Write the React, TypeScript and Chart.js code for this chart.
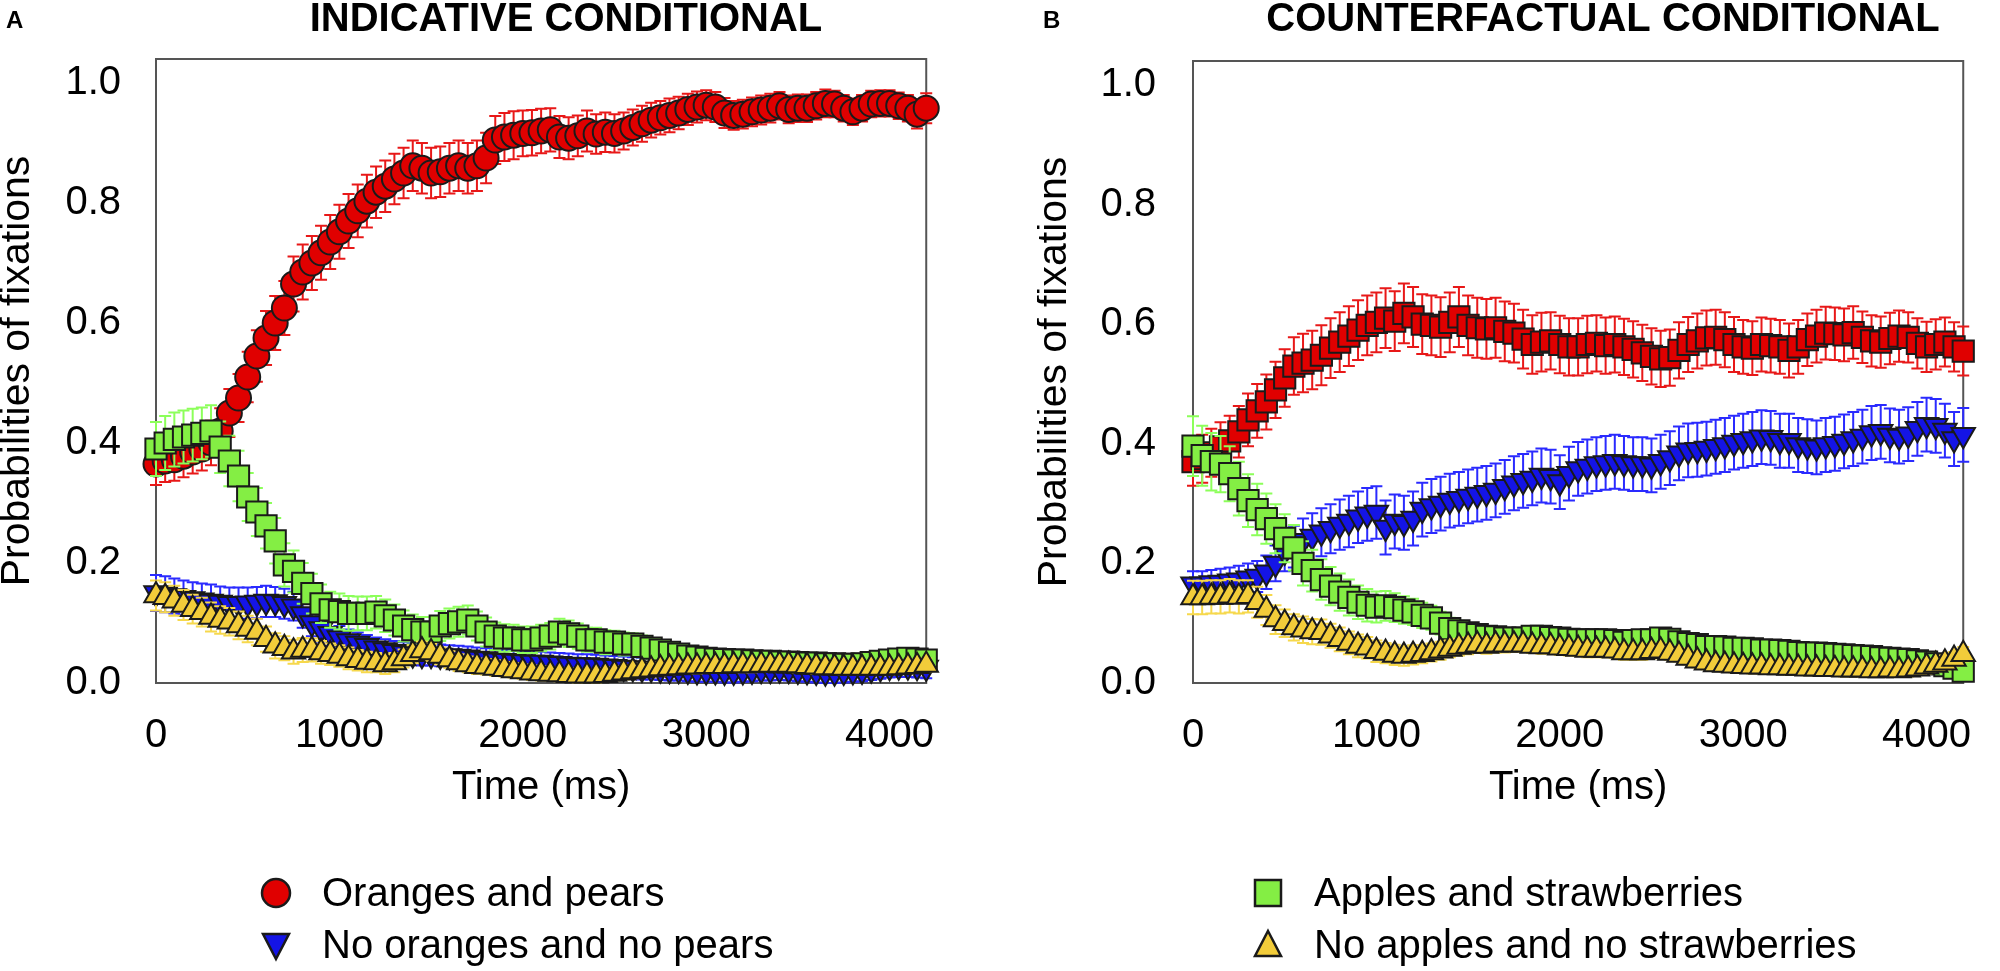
import { useEffect, useRef } from "react";
import { Chart, registerables } from "chart.js";

Chart.register(...registerables);

const FONT = "'Liberation Sans', Arial, Helvetica, sans-serif";
Chart.defaults.font.family = FONT;

// time bins (ms)
const TIME_MS = [
  0, 50, 100, 150, 200, 250, 300, 350, 400, 450,
  500, 550, 600, 650, 700, 750, 800, 850, 900, 950,
  1000, 1050, 1100, 1150, 1200, 1250, 1300, 1350, 1400, 1450,
  1500, 1550, 1600, 1650, 1700, 1750, 1800, 1850, 1900, 1950,
  2000, 2050, 2100, 2150, 2200, 2250, 2300, 2350, 2400, 2450,
  2500, 2550, 2600, 2650, 2700, 2750, 2800, 2850, 2900, 2950,
  3000, 3050, 3100, 3150, 3200, 3250, 3300, 3350, 3400, 3450,
  3500, 3550, 3600, 3650, 3700, 3750, 3800, 3850, 3900, 3950,
  4000, 4050, 4100, 4150, 4200,
];
const X_TICKS = [0, 1000, 2000, 3000, 4000];
const Y_TICKS = [0, 0.2, 0.4, 0.6, 0.8, 1.0];

// A: indicative conditional
const IND_ORANGES = [
  0.365, 0.37, 0.372, 0.378, 0.385, 0.39, 0.4, 0.42, 0.45, 0.475,
  0.51, 0.545, 0.575, 0.6, 0.625, 0.665, 0.685, 0.7, 0.717, 0.735,
  0.752, 0.77, 0.787, 0.803, 0.818, 0.828, 0.84, 0.85, 0.862, 0.858,
  0.85, 0.852, 0.858, 0.862, 0.858, 0.862, 0.875, 0.905, 0.91, 0.913,
  0.916, 0.917, 0.92, 0.922, 0.91, 0.908, 0.912, 0.92, 0.915, 0.918,
  0.916, 0.92, 0.926, 0.932, 0.938, 0.942, 0.946, 0.95, 0.956, 0.96,
  0.963, 0.96, 0.95, 0.946, 0.948, 0.952, 0.955, 0.958, 0.962, 0.956,
  0.958, 0.958, 0.962, 0.966, 0.965, 0.958, 0.952, 0.958, 0.965, 0.966,
  0.966, 0.962, 0.958, 0.948, 0.958,
];
const IND_ORANGES_SE = [
  0.035, 0.035, 0.035, 0.035, 0.036, 0.036, 0.037, 0.038, 0.04, 0.04,
  0.042, 0.043, 0.045, 0.045, 0.045, 0.046, 0.046, 0.045, 0.045, 0.045,
  0.045, 0.045, 0.044, 0.044, 0.043, 0.043, 0.042, 0.042, 0.042, 0.042,
  0.042, 0.042, 0.042, 0.042, 0.042, 0.042, 0.042, 0.04, 0.04, 0.04,
  0.038, 0.038, 0.037, 0.036, 0.035, 0.035, 0.034, 0.034, 0.033, 0.033,
  0.032, 0.031, 0.03, 0.03, 0.029, 0.028, 0.028, 0.027, 0.026, 0.026,
  0.025, 0.025, 0.025, 0.024, 0.024, 0.024, 0.024, 0.024, 0.023, 0.023,
  0.023, 0.023, 0.023, 0.023, 0.022, 0.022, 0.022, 0.022, 0.022, 0.022,
  0.022, 0.022, 0.022, 0.024, 0.025,
];
const IND_NO_ORANGES = [
  0.15, 0.148, 0.145, 0.142, 0.14, 0.138, 0.136, 0.134, 0.132, 0.132,
  0.133, 0.134, 0.136, 0.135, 0.132, 0.128, 0.115, 0.1, 0.09, 0.082,
  0.075, 0.07, 0.066, 0.062, 0.058, 0.055, 0.052, 0.05, 0.048, 0.047,
  0.047, 0.046, 0.045, 0.044, 0.043, 0.041, 0.04, 0.038, 0.037, 0.036,
  0.035, 0.034, 0.034, 0.033, 0.032, 0.031, 0.03, 0.03, 0.029, 0.028,
  0.027, 0.026, 0.025, 0.024, 0.024, 0.023, 0.022, 0.022, 0.021, 0.02,
  0.02, 0.02, 0.019, 0.019, 0.02, 0.021, 0.022, 0.022, 0.023, 0.022,
  0.021, 0.02, 0.019, 0.018, 0.018, 0.019, 0.02, 0.021, 0.023, 0.025,
  0.027, 0.028, 0.028, 0.027, 0.026,
];
const IND_NO_ORANGES_SE = [
  0.03, 0.03, 0.029, 0.029, 0.028, 0.028, 0.028, 0.027, 0.027, 0.027,
  0.026, 0.026, 0.026, 0.025, 0.025, 0.024, 0.023, 0.022, 0.021, 0.02,
  0.02, 0.019, 0.018, 0.018, 0.018, 0.018, 0.018, 0.018, 0.018, 0.018,
  0.018, 0.018, 0.018, 0.018, 0.018, 0.018, 0.018, 0.018, 0.018, 0.018,
  0.018, 0.018, 0.018, 0.018, 0.018, 0.018, 0.018, 0.018, 0.018, 0.018,
  0.018, 0.018, 0.018, 0.018, 0.018, 0.018, 0.018, 0.018, 0.018, 0.018,
  0.018, 0.018, 0.018, 0.018, 0.018, 0.018, 0.018, 0.018, 0.018, 0.018,
  0.018, 0.018, 0.018, 0.018, 0.018, 0.018, 0.018, 0.018, 0.018, 0.018,
  0.018, 0.018, 0.018, 0.018, 0.018,
];
const IND_APPLES = [
  0.39, 0.4, 0.406, 0.41, 0.413, 0.416, 0.42, 0.393, 0.37, 0.345,
  0.31, 0.285, 0.262, 0.237, 0.197, 0.186, 0.166, 0.149, 0.132, 0.122,
  0.119, 0.116, 0.116, 0.116, 0.118, 0.112, 0.105, 0.095, 0.089, 0.085,
  0.085, 0.095, 0.099, 0.102, 0.105, 0.095, 0.085, 0.078, 0.075, 0.075,
  0.072, 0.072, 0.075, 0.078, 0.085, 0.082, 0.078, 0.072, 0.072, 0.068,
  0.068, 0.065, 0.065, 0.061, 0.058, 0.055, 0.051, 0.048, 0.045, 0.043,
  0.041, 0.04, 0.039, 0.038, 0.038, 0.037, 0.036, 0.036, 0.035, 0.035,
  0.034, 0.033, 0.033, 0.032, 0.032, 0.031, 0.031, 0.032, 0.034, 0.036,
  0.038, 0.04, 0.041, 0.04, 0.038,
];
const IND_APPLES_SE = [
  0.045, 0.045, 0.045, 0.044, 0.044, 0.043, 0.043, 0.043, 0.042, 0.042,
  0.04, 0.04, 0.038, 0.038, 0.036, 0.035, 0.034, 0.033, 0.032, 0.03,
  0.03, 0.029, 0.028, 0.028, 0.027, 0.027, 0.026, 0.026, 0.025, 0.025,
  0.025, 0.025, 0.025, 0.025, 0.024, 0.024, 0.024, 0.023, 0.023, 0.022,
  0.022, 0.022, 0.022, 0.022, 0.022, 0.022, 0.021, 0.02, 0.02, 0.02,
  0.019, 0.019, 0.018, 0.018, 0.017, 0.016, 0.016, 0.015, 0.015, 0.014,
  0.014, 0.014, 0.013, 0.013, 0.013, 0.013, 0.013, 0.013, 0.013, 0.013,
  0.013, 0.013, 0.013, 0.013, 0.013, 0.013, 0.013, 0.013, 0.014, 0.014,
  0.015, 0.015, 0.015, 0.015, 0.015,
];
const IND_NO_APPLES = [
  0.146, 0.143, 0.137, 0.13, 0.123, 0.118, 0.11, 0.105, 0.102, 0.096,
  0.09, 0.085, 0.073, 0.062, 0.058, 0.052, 0.055, 0.055, 0.051, 0.048,
  0.045, 0.041, 0.038, 0.035, 0.034, 0.031, 0.034, 0.041, 0.048, 0.054,
  0.051, 0.045, 0.039, 0.034, 0.031, 0.028, 0.027, 0.025, 0.023, 0.021,
  0.019, 0.017, 0.016, 0.015, 0.014, 0.013, 0.012, 0.012, 0.012, 0.013,
  0.015, 0.017, 0.019, 0.021, 0.022, 0.024, 0.025, 0.026, 0.027, 0.027,
  0.028, 0.028, 0.028, 0.029, 0.029, 0.029, 0.03, 0.03, 0.03, 0.03,
  0.029, 0.028, 0.027, 0.026, 0.026, 0.025, 0.025, 0.025, 0.025, 0.025,
  0.025, 0.026, 0.027, 0.028, 0.03,
];
const IND_NO_APPLES_SE = [
  0.025, 0.025, 0.025, 0.025, 0.024, 0.024, 0.024, 0.023, 0.023, 0.023,
  0.022, 0.022, 0.021, 0.021, 0.02, 0.02, 0.02, 0.019, 0.019, 0.018,
  0.018, 0.018, 0.017, 0.017, 0.016, 0.016, 0.016, 0.015, 0.015, 0.015,
  0.014, 0.014, 0.014, 0.014, 0.013, 0.013, 0.013, 0.013, 0.012, 0.012,
  0.012, 0.012, 0.012, 0.011, 0.011, 0.011, 0.011, 0.011, 0.011, 0.011,
  0.011, 0.011, 0.011, 0.011, 0.011, 0.011, 0.011, 0.011, 0.011, 0.011,
  0.011, 0.011, 0.011, 0.011, 0.011, 0.011, 0.011, 0.011, 0.011, 0.011,
  0.011, 0.011, 0.011, 0.011, 0.011, 0.011, 0.011, 0.011, 0.011, 0.011,
  0.011, 0.011, 0.011, 0.011, 0.011,
];

// B: counterfactual conditional
const CF_ORANGES = [
  0.37, 0.375, 0.385, 0.395, 0.405, 0.42, 0.44, 0.455, 0.47, 0.49,
  0.51, 0.53, 0.535, 0.54, 0.548, 0.56, 0.57, 0.58, 0.59, 0.598,
  0.603, 0.61, 0.605, 0.618, 0.612, 0.6, 0.598, 0.595, 0.603, 0.612,
  0.598, 0.594, 0.592, 0.594, 0.588, 0.585, 0.575, 0.566, 0.57, 0.572,
  0.566, 0.562, 0.562, 0.566, 0.568, 0.564, 0.566, 0.562, 0.558, 0.552,
  0.546, 0.542, 0.544, 0.556, 0.566, 0.572, 0.577, 0.578, 0.574, 0.566,
  0.562, 0.56, 0.566, 0.564, 0.562, 0.556, 0.562, 0.574, 0.58, 0.585,
  0.584, 0.582, 0.586, 0.578, 0.572, 0.57, 0.576, 0.58, 0.578, 0.568,
  0.562, 0.566, 0.57, 0.562, 0.555,
];
const CF_ORANGES_SE = [
  0.04, 0.04, 0.04, 0.041, 0.042, 0.043, 0.044, 0.045, 0.046, 0.047,
  0.048, 0.048, 0.049, 0.049, 0.05, 0.05, 0.05, 0.05, 0.05, 0.05,
  0.05, 0.05, 0.05, 0.05, 0.05, 0.05, 0.05, 0.05, 0.05, 0.05,
  0.05, 0.05, 0.05, 0.05, 0.05, 0.049, 0.049, 0.049, 0.049, 0.048,
  0.048, 0.048, 0.048, 0.048, 0.047, 0.047, 0.047, 0.047, 0.047, 0.047,
  0.047, 0.047, 0.047, 0.047, 0.046, 0.046, 0.046, 0.046, 0.046, 0.046,
  0.045, 0.045, 0.045, 0.045, 0.045, 0.045, 0.045, 0.044, 0.044, 0.044,
  0.044, 0.044, 0.044, 0.043, 0.043, 0.043, 0.043, 0.043, 0.042, 0.042,
  0.042, 0.042, 0.041, 0.041, 0.041,
];
const CF_NO_ORANGES = [
  0.165, 0.165, 0.167, 0.168, 0.17, 0.172, 0.175, 0.178, 0.185, 0.2,
  0.22, 0.228, 0.238, 0.245, 0.252, 0.258, 0.265, 0.27, 0.277, 0.282,
  0.285, 0.26, 0.27, 0.268, 0.275, 0.29, 0.296, 0.3, 0.305, 0.308,
  0.312, 0.315, 0.318, 0.322, 0.328, 0.334, 0.338, 0.342, 0.347, 0.345,
  0.336, 0.35, 0.358, 0.362, 0.366, 0.368, 0.37, 0.368, 0.366, 0.366,
  0.364, 0.37, 0.376, 0.384, 0.389, 0.39, 0.392, 0.395, 0.398, 0.402,
  0.405, 0.408, 0.411, 0.41, 0.405, 0.405, 0.398, 0.396, 0.394, 0.398,
  0.4, 0.404, 0.408, 0.412, 0.418, 0.42, 0.414, 0.412, 0.416, 0.425,
  0.432, 0.43, 0.422, 0.408, 0.415,
];
const CF_NO_ORANGES_SE = [
  0.022, 0.022, 0.022, 0.023, 0.023, 0.024, 0.025, 0.026, 0.028, 0.03,
  0.033, 0.035, 0.037, 0.039, 0.04, 0.041, 0.042, 0.043, 0.043, 0.044,
  0.044, 0.045, 0.045, 0.045, 0.045, 0.045, 0.045, 0.045, 0.045, 0.045,
  0.045, 0.045, 0.045, 0.045, 0.045, 0.045, 0.045, 0.045, 0.045, 0.045,
  0.045, 0.045, 0.045, 0.045, 0.045, 0.045, 0.045, 0.045, 0.045, 0.045,
  0.045, 0.045, 0.045, 0.045, 0.045, 0.045, 0.045, 0.045, 0.045, 0.045,
  0.045, 0.045, 0.045, 0.045, 0.045, 0.045, 0.045, 0.045, 0.045, 0.045,
  0.045, 0.045, 0.045, 0.045, 0.045, 0.045, 0.045, 0.045, 0.045, 0.045,
  0.045, 0.045, 0.045, 0.045, 0.045,
];
const CF_APPLES = [
  0.396, 0.38, 0.37, 0.366, 0.35, 0.325, 0.305, 0.29, 0.275, 0.258,
  0.242, 0.226, 0.2, 0.188, 0.173, 0.162, 0.152, 0.143, 0.135, 0.13,
  0.127, 0.129, 0.126, 0.122, 0.119, 0.113, 0.109, 0.1, 0.091, 0.087,
  0.084, 0.081, 0.078, 0.077, 0.075, 0.075, 0.075, 0.078, 0.078, 0.076,
  0.075, 0.073, 0.072, 0.072, 0.072, 0.072, 0.071, 0.068, 0.071, 0.072,
  0.072, 0.075, 0.073, 0.069, 0.066, 0.064, 0.061, 0.061, 0.06, 0.058,
  0.058, 0.057, 0.055, 0.055, 0.054, 0.053, 0.051, 0.05, 0.05, 0.049,
  0.048, 0.047, 0.046, 0.045, 0.044, 0.042, 0.041, 0.04, 0.039, 0.037,
  0.035, 0.032, 0.029, 0.025, 0.02,
];
const CF_APPLES_SE = [
  0.05, 0.05, 0.048, 0.047, 0.046, 0.045, 0.044, 0.043, 0.042, 0.041,
  0.04, 0.038, 0.037, 0.035, 0.034, 0.032, 0.031, 0.03, 0.028, 0.027,
  0.026, 0.025, 0.024, 0.023, 0.022, 0.021, 0.02, 0.019, 0.018, 0.017,
  0.016, 0.016, 0.015, 0.015, 0.015, 0.015, 0.015, 0.015, 0.015, 0.015,
  0.014, 0.014, 0.014, 0.014, 0.014, 0.014, 0.014, 0.014, 0.014, 0.014,
  0.014, 0.014, 0.014, 0.014, 0.013, 0.013, 0.013, 0.013, 0.013, 0.013,
  0.013, 0.013, 0.013, 0.013, 0.013, 0.013, 0.013, 0.013, 0.013, 0.013,
  0.013, 0.013, 0.013, 0.013, 0.013, 0.012, 0.012, 0.012, 0.012, 0.012,
  0.012, 0.012, 0.012, 0.012, 0.012,
];
const CF_NO_APPLES = [
  0.143, 0.143, 0.144, 0.144, 0.146, 0.144, 0.145, 0.135, 0.122, 0.106,
  0.1, 0.093, 0.089, 0.086, 0.085, 0.079, 0.073, 0.067, 0.062, 0.059,
  0.053, 0.05, 0.047, 0.045, 0.047, 0.048, 0.051, 0.054, 0.057, 0.06,
  0.062, 0.064, 0.062, 0.064, 0.064, 0.064, 0.064, 0.062, 0.061, 0.061,
  0.059, 0.058, 0.057, 0.055, 0.055, 0.055, 0.054, 0.051, 0.051, 0.051,
  0.053, 0.054, 0.05, 0.047, 0.042, 0.037, 0.034, 0.031, 0.03, 0.029,
  0.028, 0.027, 0.027, 0.026, 0.026, 0.025, 0.025, 0.024, 0.024, 0.023,
  0.023, 0.022, 0.022, 0.022, 0.021, 0.021, 0.022, 0.021, 0.022, 0.024,
  0.027, 0.03, 0.034, 0.04, 0.048,
];
const CF_NO_APPLES_SE = [
  0.028, 0.028, 0.028, 0.028, 0.028, 0.028, 0.027, 0.026, 0.025, 0.024,
  0.023, 0.022, 0.022, 0.021, 0.021, 0.02, 0.02, 0.019, 0.019, 0.018,
  0.018, 0.017, 0.017, 0.016, 0.016, 0.015, 0.015, 0.015, 0.014, 0.014,
  0.014, 0.013, 0.013, 0.013, 0.013, 0.012, 0.012, 0.012, 0.012, 0.012,
  0.012, 0.012, 0.012, 0.012, 0.012, 0.012, 0.012, 0.012, 0.012, 0.012,
  0.012, 0.012, 0.011, 0.011, 0.011, 0.011, 0.011, 0.011, 0.011, 0.011,
  0.011, 0.011, 0.011, 0.011, 0.011, 0.011, 0.011, 0.011, 0.011, 0.011,
  0.011, 0.011, 0.011, 0.011, 0.011, 0.011, 0.011, 0.011, 0.011, 0.011,
  0.011, 0.011, 0.012, 0.012, 0.012,
];

const RED = { fill: "#E00000", bar: "#E81818" };
const BLUE = { fill: "#1414E6", bar: "#2A2AFF" };
const GREEN = { fill: "#84EE44", bar: "#8CFF5A" };
const YELLOW = { fill: "#F2CC3A", bar: "#F6D84C" };
const EDGE = "#1a1a1a";
const CAP = 6;

type Marker = "circle" | "rect" | "triUp" | "triDown";

interface Series {
  label: string;
  values: number[];
  errors: number[];
  color: { fill: string; bar: string };
  marker: Marker;
}

interface LegendEntry {
  label: string;
  color: { fill: string; bar: string };
  marker: Marker;
}

function pointOpts(m: Marker) {
  if (m === "circle") return { pointStyle: "circle", pointRadius: 12.5, pointRotation: 0 };
  if (m === "rect") return { pointStyle: "rect", pointRadius: 15, pointRotation: 0 };
  if (m === "triUp") return { pointStyle: "triangle", pointRadius: 13.5, pointRotation: 0 };
  return { pointStyle: "triangle", pointRadius: 13.5, pointRotation: 180 };
}

function drawMarker(ctx: CanvasRenderingContext2D, m: Marker, x: number, y: number, fill: string) {
  ctx.beginPath();
  if (m === "circle") {
    ctx.arc(x, y, 14, 0, Math.PI * 2);
  } else if (m === "rect") {
    ctx.rect(x - 13, y - 13, 26, 26);
  } else if (m === "triUp") {
    ctx.moveTo(x, y - 14);
    ctx.lineTo(x + 13, y + 11);
    ctx.lineTo(x - 13, y + 11);
    ctx.closePath();
  } else {
    ctx.moveTo(x, y + 14);
    ctx.lineTo(x + 13, y - 11);
    ctx.lineTo(x - 13, y - 11);
    ctx.closePath();
  }
  ctx.fillStyle = fill;
  ctx.fill();
  ctx.lineWidth = 2.5;
  ctx.strokeStyle = EDGE;
  ctx.stroke();
}

const errorBars = {
  id: "errorBars",
  beforeDatasetDraw(chart: any, args: any) {
    const ds = chart.data.datasets[args.index];
    if (!ds.errors) return;
    const y = chart.scales.y;
    const ctx = chart.ctx;
    ctx.save();
    ctx.strokeStyle = ds.errorColor;
    ctx.lineWidth = 2;
    args.meta.data.forEach((pt: any, i: number) => {
      const v = ds.data[i].y;
      const e = ds.errors[i];
      const top = y.getPixelForValue(v + e);
      const bot = y.getPixelForValue(Math.max(0, v - e));
      ctx.beginPath();
      ctx.moveTo(pt.x, top);
      ctx.lineTo(pt.x, bot);
      ctx.moveTo(pt.x - CAP, top);
      ctx.lineTo(pt.x + CAP, top);
      ctx.moveTo(pt.x - CAP, bot);
      ctx.lineTo(pt.x + CAP, bot);
      ctx.stroke();
    });
    ctx.restore();
  },
};

const frame = {
  id: "frame",
  beforeDatasetsDraw(chart: any) {
    const { ctx, chartArea: a } = chart;
    ctx.save();
    ctx.strokeStyle = "#555";
    ctx.lineWidth = 2;
    ctx.strokeRect(a.left, a.top, a.right - a.left, a.bottom - a.top);
    ctx.restore();
  },
};

const overlay = {
  id: "overlay",
  afterDraw(chart: any, _args: any, opts: any) {
    const ctx = chart.ctx;
    ctx.save();
    ctx.fillStyle = "#000";
    ctx.textBaseline = "middle";
    ctx.font = `bold 24px ${FONT}`;
    ctx.textAlign = "left";
    ctx.fillText(opts.letter, 6, 21);
    ctx.font = `bold 40px ${FONT}`;
    ctx.textAlign = "center";
    ctx.fillText(opts.title, 566, 20);
    ctx.font = `40px ${FONT}`;
    ctx.textAlign = "left";
    (opts.legend as LegendEntry[]).forEach((item, i) => {
      const cy = 893 + i * 52;
      drawMarker(ctx, item.marker, opts.markerX, cy, item.color.fill);
      ctx.fillStyle = "#000";
      ctx.fillText(item.label, opts.textX, cy + 2);
    });
    ctx.restore();
  },
};

interface PanelProps {
  left: number;
  letter: string;
  title: string;
  series: Series[];
  legend: LegendEntry[];
  markerX: number;
  textX: number;
  tickPad: number;
}

function Panel({ left, letter, title, series, legend, markerX, textX, tickPad }: PanelProps) {
  const canvasRef = useRef<HTMLCanvasElement>(null);
  const chartRef = useRef<Chart | null>(null);

  useEffect(() => {
    if (!canvasRef.current) return;
    chartRef.current?.destroy();

    chartRef.current = new Chart(canvasRef.current, {
      type: "scatter",
      data: {
        datasets: series.map((s, k) => ({
          label: s.label,
          data: TIME_MS.map((t, i) => ({ x: t, y: s.values[i] })),
          errors: s.errors,
          errorColor: s.color.bar,
          showLine: false,
          ...pointOpts(s.marker),
          pointBackgroundColor: s.color.fill,
          pointBorderColor: EDGE,
          pointBorderWidth: 2,
          clip: false,
          order: series.length - k,
        })) as any,
      },
      options: {
        animation: false,
        responsive: true,
        maintainAspectRatio: false,
        events: [],
        layout: { padding: { left: 0, right: 20, top: 59, bottom: 159 } },
        plugins: {
          legend: { display: false },
          tooltip: { enabled: false },
          overlay: { letter, title, legend, markerX, textX },
        } as any,
        scales: {
          x: {
            type: "linear",
            min: 0,
            max: 4200,
            grid: { display: false, drawTicks: false },
            border: { display: false },
            afterBuildTicks: (s: any) => { s.ticks = X_TICKS.map((v) => ({ value: v })); },
            afterFit: (s: any) => { s.height = 129; },
            ticks: {
              padding: 29,
              color: "#000",
              font: { size: 40 },
              maxRotation: 0,
              autoSkip: false,
              callback: (v: any) => String(v),
            },
            title: { display: true, text: "Time (ms)", color: "#000", font: { size: 40 }, padding: 0 },
          },
          y: {
            type: "linear",
            min: 0,
            max: 1.04,
            grid: { display: false, drawTicks: false },
            border: { display: false },
            afterBuildTicks: (s: any) => { s.ticks = Y_TICKS.map((v) => ({ value: v })); },
            afterFit: (s: any) => { s.width = 156; },
            ticks: {
              padding: tickPad,
              color: "#000",
              font: { size: 40 },
              autoSkip: false,
              callback: (v: any) => Number(v).toFixed(1),
            },
            title: {
              display: true,
              text: "Probabilities of fixations",
              color: "#000",
              font: { size: 41, lineHeight: 0.88 },
              padding: 0,
            },
          },
        },
      },
      plugins: [frame, errorBars, overlay],
    });

    return () => { chartRef.current?.destroy(); };
  }, [series, legend, letter, title, markerX, textX, tickPad]);

  return (
    <div style={{ position: "absolute", left, top: 0, width: 964, height: 971 }}>
      <canvas ref={canvasRef} />
    </div>
  );
}

const INDICATIVE: Series[] = [
  { label: "Oranges and pears", values: IND_ORANGES, errors: IND_ORANGES_SE, color: RED, marker: "circle" },
  { label: "No oranges and no pears", values: IND_NO_ORANGES, errors: IND_NO_ORANGES_SE, color: BLUE, marker: "triDown" },
  { label: "Apples and strawberries", values: IND_APPLES, errors: IND_APPLES_SE, color: GREEN, marker: "rect" },
  { label: "No apples and no strawberries", values: IND_NO_APPLES, errors: IND_NO_APPLES_SE, color: YELLOW, marker: "triUp" },
];

const COUNTERFACTUAL: Series[] = [
  { label: "Oranges and pears", values: CF_ORANGES, errors: CF_ORANGES_SE, color: RED, marker: "rect" },
  { label: "No oranges and no pears", values: CF_NO_ORANGES, errors: CF_NO_ORANGES_SE, color: BLUE, marker: "triDown" },
  { label: "Apples and strawberries", values: CF_APPLES, errors: CF_APPLES_SE, color: GREEN, marker: "rect" },
  { label: "No apples and no strawberries", values: CF_NO_APPLES, errors: CF_NO_APPLES_SE, color: YELLOW, marker: "triUp" },
];

const LEGEND_A: LegendEntry[] = [
  { label: "Oranges and pears", color: RED, marker: "circle" },
  { label: "No oranges and no pears", color: BLUE, marker: "triDown" },
];

const LEGEND_B: LegendEntry[] = [
  { label: "Apples and strawberries", color: GREEN, marker: "rect" },
  { label: "No apples and no strawberries", color: YELLOW, marker: "triUp" },
];

export default function App() {
  return (
    <div style={{ position: "fixed", left: 0, top: 0, width: 2000, height: 971, background: "#fff", overflow: "hidden" }}>
      <Panel left={0} letter="A" title="INDICATIVE CONDITIONAL" series={INDICATIVE} legend={LEGEND_A} markerX={276} textX={322} tickPad={35} />
      <Panel left={1037} letter="B" title="COUNTERFACTUAL CONDITIONAL" series={COUNTERFACTUAL} legend={LEGEND_B} markerX={231} textX={277} tickPad={37} />
    </div>
  );
}
